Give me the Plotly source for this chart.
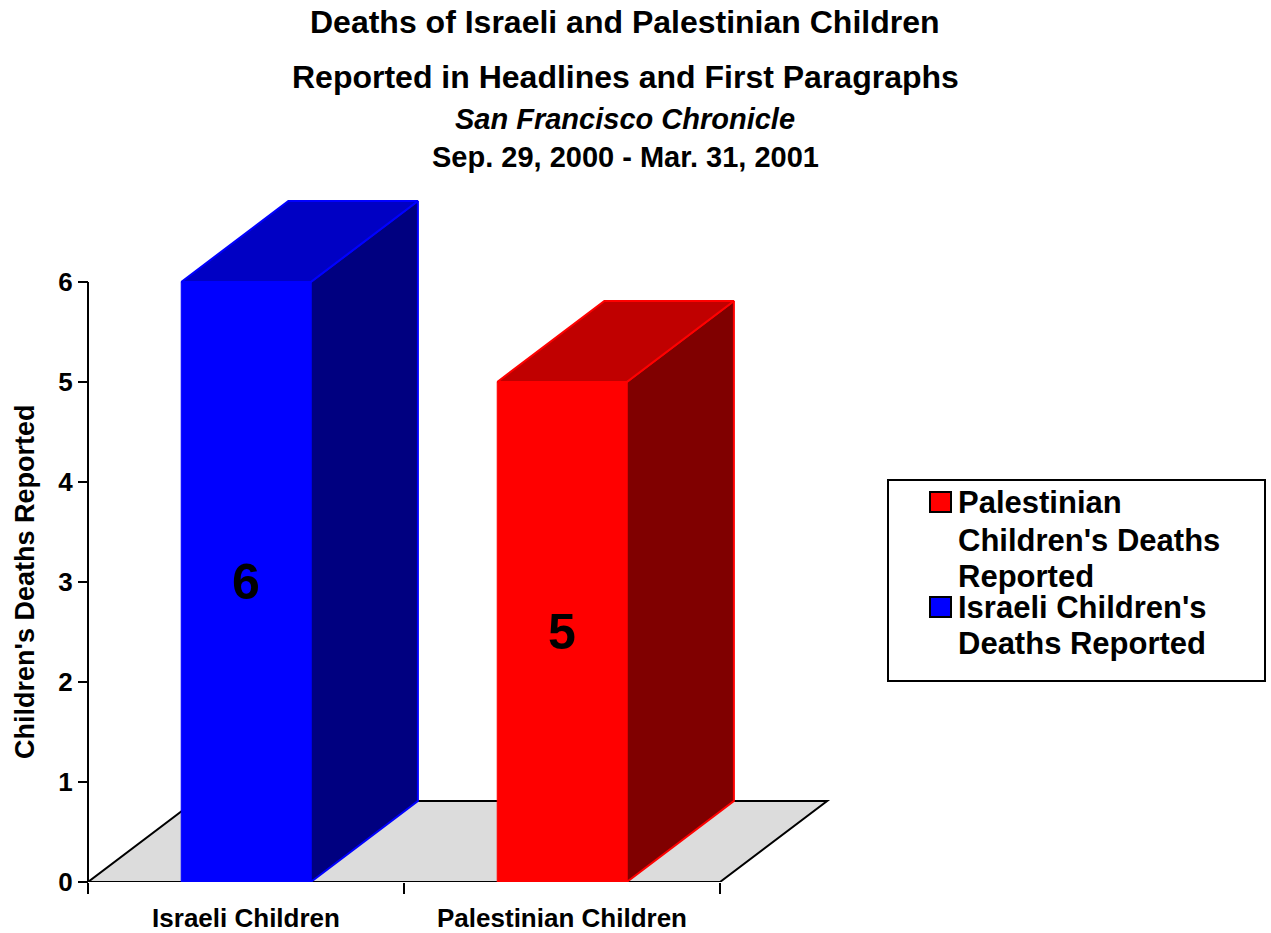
import plotly.graph_objects as go

# ---------------- data ----------------
categories = ["Israeli Children", "Palestinian Children"]
deaths_reported = [6, 5]
series_names = ["Israeli Children's Deaths Reported", "Palestinian Children's Deaths Reported"]
y_ticks = [0, 1, 2, 3, 4, 5, 6]
title_lines = [
    "Deaths of Israeli and Palestinian Children",
    "Reported in Headlines and First Paragraphs",
    "San Francisco Chronicle",
    "Sep. 29, 2000 - Mar. 31, 2001",
]
y_title = "Children's Deaths Reported"
# legend entries in display order (Palestinian first), wrapped as in the original
legend_order = [1, 0]
legend_lines = {
    0: ["Israeli Children's", "Deaths Reported"],
    1: ["Palestinian", "Children's Deaths", "Reported"],
}

# ---------------- style ----------------
FONT = "Liberation Sans, Arial, Helvetica, sans-serif"
front_colors = ["#0000FF", "#FF0000"]
top_colors = ["#0000C4", "#C00000"]
side_colors = ["#000080", "#800000"]
floor_color = "#DCDCDC"
BAR_W = 0.41
DEPTH_X = 0.339   # pseudo-3D depth in x data units
DEPTH_Y = 0.81    # pseudo-3D depth in y data units

W, H = 1271, 933
ML, MR, MT, MB = 72, 400, 192, 51
PW, PH = W - ML - MR, H - MT - MB
X_PX = 316.0
Y_PX = 100.0
n = len(categories)
x0 = -0.5 - 16.0 / X_PX
x_range = [x0, x0 + PW / X_PX]
y_range = [0, PH / Y_PX]


def px_x(p):
    return (p - ML) / PW


def px_y(p):
    return (H - MB - p) / PH


fig = go.Figure()

xs = list(range(n))

# front faces as bars
for i in range(n):
    fig.add_trace(go.Bar(
        x=[xs[i]], y=[deaths_reported[i]], width=BAR_W,
        marker=dict(color=front_colors[i], line=dict(color=front_colors[i], width=1)),
        text=[str(deaths_reported[i])], textposition="inside", insidetextanchor="middle",
        textangle=0,
        textfont=dict(family=FONT, size=50, color="black", weight="bold"),
        name=series_names[i], showlegend=False, hoverinfo="skip",
    ))

# side and top faces from the data values
for i in range(n):
    v = deaths_reported[i]
    l = xs[i] - BAR_W / 2
    r = xs[i] + BAR_W / 2
    fig.add_trace(go.Scatter(
        x=[r, r, r + DEPTH_X, r + DEPTH_X, r],
        y=[0, v, v + DEPTH_Y, DEPTH_Y, 0],
        mode="lines", fill="toself", fillcolor=side_colors[i],
        line=dict(color=front_colors[i], width=2),
        showlegend=False, hoverinfo="skip",
    ))
    fig.add_trace(go.Scatter(
        x=[l, l + DEPTH_X, r + DEPTH_X, r, l],
        y=[v, v + DEPTH_Y, v + DEPTH_Y, v, v],
        mode="lines", fill="toself", fillcolor=top_colors[i],
        line=dict(color=front_colors[i], width=2),
        showlegend=False, hoverinfo="skip",
    ))

shapes = []
# floor
fx0, fx1 = -0.5, n - 0.5
shapes.append(dict(
    type="path", xref="x", yref="y", layer="below",
    path=f"M {fx0},0 L {fx1},0 L {fx1 + DEPTH_X},{DEPTH_Y} L {fx0 + DEPTH_X},{DEPTH_Y} Z",
    fillcolor=floor_color, line=dict(color="black", width=2),
))
# y axis line
shapes.append(dict(type="line", xref="x", yref="y", x0=-0.5, x1=-0.5,
                   y0=y_ticks[0], y1=y_ticks[-1], line=dict(color="black", width=2)))

# legend box
shapes.append(dict(type="rect", xref="paper", yref="paper",
                   x0=px_x(888), x1=px_x(1265), y0=px_y(681), y1=px_y(480),
                   line=dict(color="black", width=2), fillcolor="white"))

annotations = []
# titles
title_specs = [(22, 32, False), (77, 32, False), (119, 29, True), (157, 29, False)]
for txt, (py, fs, it) in zip(title_lines, title_specs):
    annotations.append(dict(
        text=txt, xref="paper", yref="paper", x=px_x(625), y=px_y(py),
        xanchor="center", yanchor="middle", showarrow=False,
        font=dict(family=FONT, size=fs, color="black", weight="bold",
                  style="italic" if it else "normal"),
    ))
# y axis title
annotations.append(dict(
    text=y_title, xref="paper", yref="paper", x=px_x(25), y=px_y(582),
    xanchor="center", yanchor="middle", showarrow=False, textangle=-90,
    font=dict(family=FONT, size=27, color="black", weight="bold"),
))

# legend content
leg_line_y = {1: [502, 540, 576], 0: [607, 643]}
for k in legend_order:
    ys = leg_line_y[k]
    shapes.append(dict(type="rect", xref="paper", yref="paper",
                       x0=px_x(930), x1=px_x(951), y0=px_y(ys[0] + 10), y1=px_y(ys[0] - 10),
                       line=dict(color="black", width=2), fillcolor=front_colors[k]))
    for txt, py in zip(legend_lines[k], ys):
        annotations.append(dict(
            text=txt, xref="paper", yref="paper", x=px_x(956), y=px_y(py),
            xanchor="left", yanchor="middle", showarrow=False,
            font=dict(family=FONT, size=31, color="black", weight="bold"),
        ))

fig.update_layout(
    width=W, height=H,
    margin=dict(l=ML, r=MR, t=MT, b=MB, autoexpand=False),
    paper_bgcolor="white", plot_bgcolor="white",
    showlegend=False, barmode="overlay",
    shapes=shapes, annotations=annotations,
    xaxis=dict(
        range=x_range, tickmode="array", tickvals=xs, ticktext=categories,
        ticks="", showgrid=False, zeroline=False, showline=False,
        tickfont=dict(family=FONT, size=26, color="black", weight="bold"),
        ticklabelstandoff=18,
        minor=dict(tickmode="array", tickvals=[i - 0.5 for i in range(n + 1)],
                   ticks="outside", ticklen=11, tickwidth=2, tickcolor="black",
                   showgrid=False),
        fixedrange=True,
    ),
    yaxis=dict(
        range=y_range, tickmode="array", tickvals=y_ticks,
        ticks="outside", ticklen=10, tickwidth=2, tickcolor="black",
        showgrid=False, zeroline=False, showline=False,
        anchor="free", position=px_x(88),
        tickfont=dict(family=FONT, size=26, color="black", weight="bold"),
        fixedrange=True,
    ),
)

fig.write_html("out.html", config={"displayModeBar": False},
               post_script="document.body.style.margin='0';")
